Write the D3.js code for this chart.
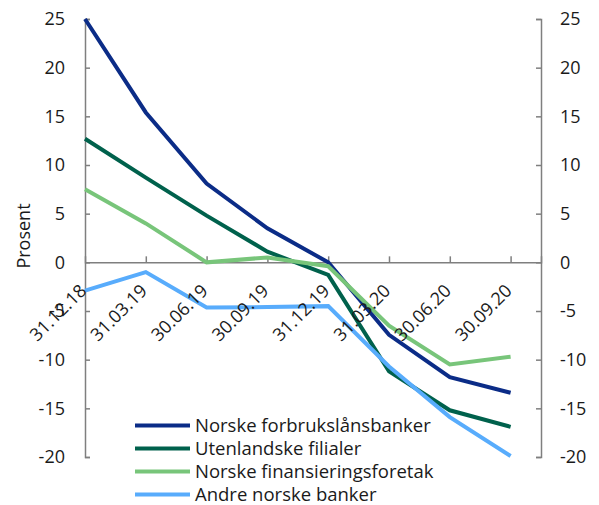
<!DOCTYPE html>
<html>
<head>
<meta charset="utf-8">
<script src="https://cdn.jsdelivr.net/npm/d3@7"></script>
<style>
  body { margin: 0; background: #fff; }
  svg text { font-family: "Open Sans", sans-serif; fill: #1a1a1a; }
</style>
</head>
<body>
<div class="chart"></div>
<script>
const dates = ["31.12.18", "31.03.19", "30.06.19", "30.09.19", "31.12.19", "31.03.20", "30.06.20", "30.09.20"];
const forbruk = [25, 15.4, 8.1, 3.5, 0, -7.45, -11.8, -13.4];
const filialer = [12.7, 8.7, 4.8, 1.1, -1.3, -11.2, -15.2, -16.9];
const finans = [7.5, 4.0, 0, 0.5, -0.4, -6.5, -10.5, -9.7];
const andre = [-2.9, -1.0, -4.65, -4.6, -4.5, -10.7, -15.9, -19.9];
const yTicks = [25, 20, 15, 10, 5, 0, -5, -10, -15, -20];

const series = [
  { name: "Norske forbrukslånsbanker", values: forbruk, color: "#0b2c87" },
  { name: "Utenlandske filialer", values: filialer, color: "#00614c" },
  { name: "Norske finansieringsforetak", values: finans, color: "#78c57a" },
  { name: "Andre norske banker", values: andre, color: "#58acfc" }
];

const WIDTH = 599, HEIGHT = 505;
const plotLeft = 85, plotRight = 541, plotTop = 19, plotBottom = 457;
const fs = 18;

const svg = d3.select(".chart").append("svg")
  .attr("width", WIDTH).attr("height", HEIGHT);

const x = d3.scaleLinear().domain([0, dates.length - 0.5]).range([plotLeft, plotRight]);
const y = d3.scaleLinear().domain([-20, 25]).range([plotBottom, plotTop]);

const axisColor = "#7f7f7f";

// left and right axes, ticks pointing inwards
const yl = svg.append("g").attr("transform", `translate(${plotLeft},0)`)
  .call(d3.axisRight(y).tickValues(yTicks).tickSize(5).tickFormat(""));
const yr = svg.append("g").attr("transform", `translate(${plotRight},0)`)
  .call(d3.axisLeft(y).tickValues(yTicks).tickSize(5).tickFormat(""));
[yl, yr].forEach(g => {
  g.select(".domain").attr("stroke", axisColor).attr("stroke-width", 1.5);
  g.selectAll(".tick line").attr("stroke", axisColor).attr("stroke-width", 1.5);
});

svg.selectAll(".ylab-l").data(yTicks).enter().append("text")
  .attr("class", "ylab-l")
  .attr("x", plotLeft - 20).attr("y", d => y(d)).attr("dy", "0.35em")
  .attr("text-anchor", "end").attr("font-size", fs)
  .text(d => d);
svg.selectAll(".ylab-r").data(yTicks).enter().append("text")
  .attr("class", "ylab-r")
  .attr("x", plotRight + 19).attr("y", d => y(d)).attr("dy", "0.35em")
  .attr("text-anchor", "start").attr("font-size", fs)
  .text(d => d);

// zero line with upward ticks
const xa = svg.append("g").attr("transform", `translate(0,${y(0)})`)
  .call(d3.axisTop(x).tickValues(d3.range(1, dates.length)).tickSize(6).tickFormat(""));
xa.select(".domain").attr("stroke", axisColor).attr("stroke-width", 1.5);
xa.selectAll(".tick line").attr("stroke", axisColor).attr("stroke-width", 1.5);

svg.append("text")
  .attr("transform", "translate(30,236) rotate(-90)")
  .attr("text-anchor", "middle").attr("font-size", fs)
  .text("Prosent");

// lines
const line = d3.line().x((d, i) => x(i)).y(d => y(d));
svg.selectAll(".series").data(series).enter().append("path")
  .attr("class", "series")
  .attr("d", d => line(d.values))
  .attr("fill", "none")
  .attr("stroke", d => d.color)
  .attr("stroke-width", 4)
  .attr("stroke-linejoin", "miter");

// date labels, drawn over the lines
svg.selectAll(".xlab").data(dates).enter().append("text")
  .attr("class", "xlab")
  .attr("transform", (d, i) => `translate(${x(i) + 2.5},292) rotate(-45)`)
  .attr("text-anchor", "end").attr("font-size", fs)
  .text(d => d);

// legend
const leg = svg.selectAll(".leg").data(series).enter().append("g")
  .attr("class", "leg")
  .attr("transform", (d, i) => `translate(135,${425.5 + i * 23})`);
leg.append("line")
  .attr("x1", 0).attr("x2", 55)
  .attr("stroke", d => d.color).attr("stroke-width", 4);
leg.append("text")
  .attr("x", 60).attr("dy", "0.35em").attr("font-size", 18.5)
  .text(d => d.name);
</script>
</body>
</html>
